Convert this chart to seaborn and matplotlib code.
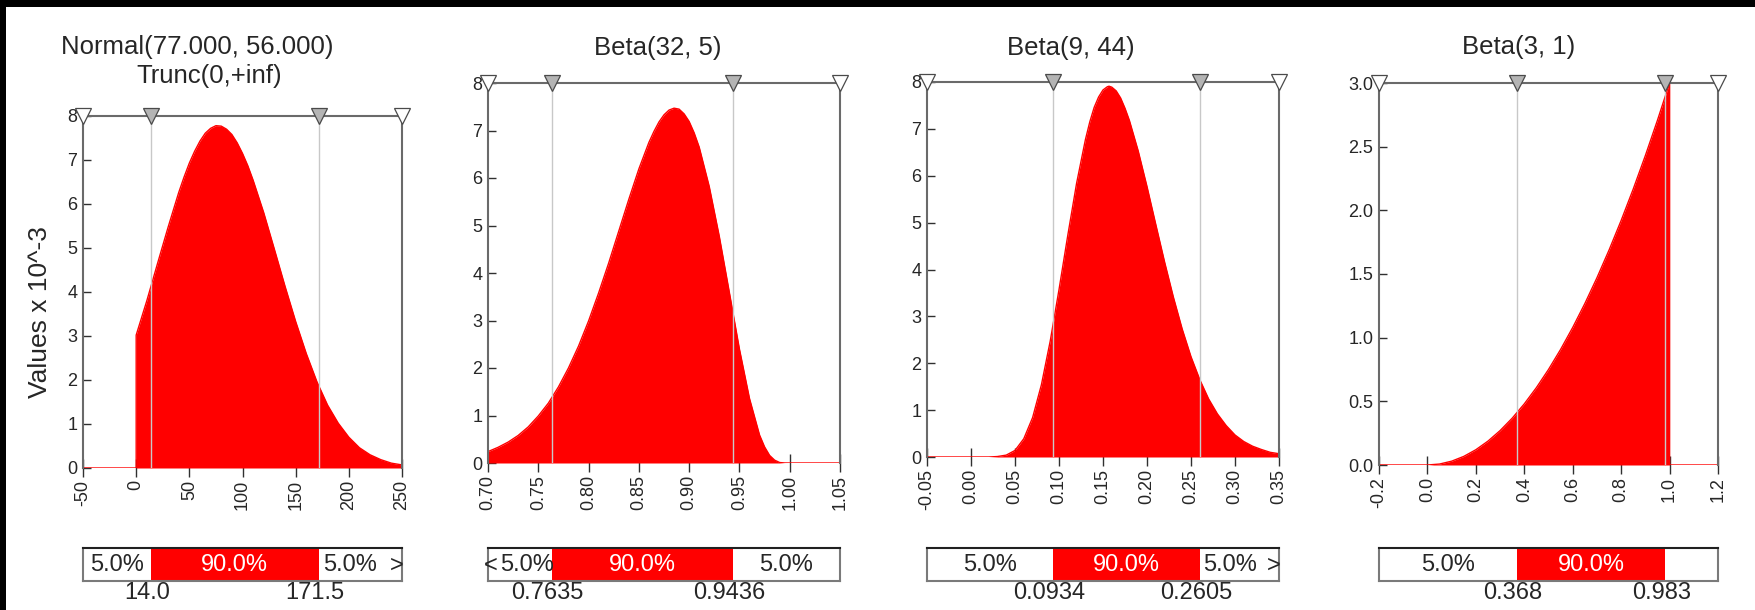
import matplotlib
matplotlib.use("Agg")
import numpy as np
import pandas as pd
import matplotlib.pyplot as plt
from matplotlib.patches import Rectangle
import seaborn as sns

# ---- data ----
titles = [["Normal(77.000, 56.000)", "Trunc(0,+inf)"], ["Beta(32, 5)"], ["Beta(9, 44)"], ["Beta(3, 1)"]]

normal_x = [-50, 0, 0, 10, 20, 30, 40, 45, 50, 55, 60, 65, 70, 75, 80, 85, 90, 95, 100, 105,
            110, 120, 130, 140, 150, 160, 170, 180, 190, 200, 210, 220, 230, 240, 250]
normal_y = [0, 0, 3.02, 3.80, 4.64, 5.47, 6.26, 6.61, 6.93, 7.20, 7.43, 7.61, 7.72, 7.78, 7.77,
            7.70, 7.58, 7.39, 7.15, 6.87, 6.54, 5.80, 4.97, 4.13, 3.33, 2.60, 1.96, 1.43, 1.02,
            0.70, 0.46, 0.30, 0.19, 0.11, 0.07]

beta1_x = [0.70, 0.71, 0.72, 0.73, 0.74, 0.75, 0.76, 0.77, 0.78, 0.79, 0.80, 0.81, 0.82, 0.83,
           0.84, 0.85, 0.86, 0.865, 0.87, 0.875, 0.88, 0.885, 0.89, 0.895, 0.90, 0.905, 0.91,
           0.92, 0.93, 0.94, 0.95, 0.96, 0.97, 0.975, 0.98, 0.985, 0.99, 0.995, 1.00, 1.05]
beta1_y = [0.24, 0.33, 0.44, 0.58, 0.76, 0.99, 1.26, 1.60, 2.00, 2.46, 2.99, 3.58, 4.21, 4.88,
           5.55, 6.19, 6.75, 6.98, 7.18, 7.33, 7.43, 7.47, 7.45, 7.35, 7.19, 6.95, 6.65,
           5.82, 4.77, 3.59, 2.40, 1.36, 0.59, 0.34, 0.16, 0.06, 0.01, 0.001, 0.0, 0.0]

beta2_x = [-0.05, 0.00, 0.01, 0.02, 0.03, 0.04, 0.05, 0.06, 0.07, 0.08, 0.09, 0.10, 0.11, 0.12,
           0.13, 0.135, 0.14, 0.145, 0.15, 0.155, 0.1569, 0.16, 0.165, 0.17, 0.175, 0.18, 0.19,
           0.20, 0.21, 0.22, 0.23, 0.24, 0.25, 0.26, 0.27, 0.28, 0.29, 0.30, 0.31, 0.32, 0.33,
           0.34, 0.35]
beta2_y = [0, 0, 0.0, 0.0, 0.01, 0.04, 0.14, 0.39, 0.84, 1.54, 2.47, 3.57, 4.73, 5.84,
           6.77, 7.15, 7.46, 7.68, 7.83, 7.90, 7.91, 7.89, 7.81, 7.66, 7.44, 7.18, 6.53,
           5.77, 4.96, 4.16, 3.41, 2.73, 2.14, 1.65, 1.24, 0.92, 0.67, 0.47, 0.33, 0.23, 0.16,
           0.10, 0.07]

beta3_x = [-0.2, 0.0, 0.05, 0.10, 0.15, 0.20, 0.25, 0.30, 0.35, 0.40, 0.45, 0.50, 0.55, 0.60,
           0.65, 0.70, 0.75, 0.80, 0.85, 0.90, 0.95, 1.0, 1.0, 1.2]
beta3_y = [0, 0, 0.0075, 0.03, 0.0675, 0.12, 0.1875, 0.27, 0.3675, 0.48, 0.6075, 0.75, 0.9075,
           1.08, 1.2675, 1.47, 1.6875, 1.92, 2.1675, 2.43, 2.7075, 3.0, 0, 0]

curves_x = [normal_x, beta1_x, beta2_x, beta3_x]
curves_y = [normal_y, beta1_y, beta2_y, beta3_y]

x_limits = [(-50, 250), (0.70, 1.05), (-0.05, 0.35), (-0.2, 1.2)]
y_limits = [(0, 8), (0, 8), (0, 8), (0, 3.0)]
x_ticks = [[-50, 0, 50, 100, 150, 200, 250],
           [0.70, 0.75, 0.80, 0.85, 0.90, 0.95, 1.00, 1.05],
           [-0.05, 0.00, 0.05, 0.10, 0.15, 0.20, 0.25, 0.30, 0.35],
           [-0.2, 0.0, 0.2, 0.4, 0.6, 0.8, 1.0, 1.2]]
x_tick_labels = [["-50", "0", "50", "100", "150", "200", "250"],
                 ["0.70", "0.75", "0.80", "0.85", "0.90", "0.95", "1.00", "1.05"],
                 ["-0.05", "0.00", "0.05", "0.10", "0.15", "0.20", "0.25", "0.30", "0.35"],
                 ["-0.2", "0.0", "0.2", "0.4", "0.6", "0.8", "1.0", "1.2"]]
y_ticks = [[0, 1, 2, 3, 4, 5, 6, 7, 8]] * 3 + [[0, 0.5, 1.0, 1.5, 2.0, 2.5, 3.0]]
y_tick_labels = [["0", "1", "2", "3", "4", "5", "6", "7", "8"]] * 3 + \
                [["0.0", "0.5", "1.0", "1.5", "2.0", "2.5", "3.0"]]

q_low = [14.0, 0.7635, 0.0934, 0.368]
q_high = [171.5, 0.9436, 0.2605, 0.983]
q_low_labels = ["14.0", "0.7635", "0.0934", "0.368"]
q_high_labels = ["171.5", "0.9436", "0.2605", "0.983"]
left_pct = ["5.0%", "5.0%", "5.0%", "5.0%"]
mid_pct = ["90.0%", "90.0%", "90.0%", "90.0%"]
right_pct = ["5.0%", "5.0%", "5.0%", ""]
left_arrow = ["", "<", "", ""]
right_arrow = [">", "", ">", ""]

# ---- layout (pixels of a 1756x610 canvas) ----
W, H = 1756, 610
panel_px = [(83, 116, 402, 468), (488, 83, 840, 463), (927, 82, 1279, 457), (1379, 83, 1718, 465)]
bar_top, bar_bottom = 548, 581
title_px = [[(197, 47), (209, 76)], [(658, 48)], [(1071, 48)], [(1519, 47)]]

RED = "#ff0000"
EDGE = "#6a6a6a"


def px_rect(l, t, r, b):
    return [l / W, 1 - b / H, (r - l) / W, (b - t) / H]


sns.set_style("ticks")
plt.rcParams['font.family'] = ['Liberation Sans', 'DejaVu Sans']

fig = plt.figure(figsize=(W / 100, H / 100), dpi=100)

for i in range(4):
    l, t, r, b = panel_px[i]
    ax = fig.add_axes(px_rect(l, t, r, b))
    df = pd.DataFrame({"x": curves_x[i], "y": curves_y[i]})
    ax.fill_between(df["x"], 0, df["y"], color=RED, lw=0, zorder=2)
    sns.lineplot(data=df, x="x", y="y", color=RED, lw=1.0, ax=ax, sort=False,
                 estimator=None, zorder=3)
    x0, x1 = x_limits[i]
    y0, y1 = y_limits[i]
    ax.set_xlim(x0, x1)
    ax.set_ylim(y0, y1)
    ax.set_xlabel("")
    ax.set_ylabel("")

    for q in (q_low[i], q_high[i]):
        ax.axvline(q, color="#c8c8c8", lw=1, zorder=4)

    for side in ("top", "left", "right"):
        ax.spines[side].set_color(EDGE)
        ax.spines[side].set_linewidth(1.5)
        ax.spines[side].set_zorder(5)
    ax.spines["bottom"].set_visible(False)

    ax.plot([x0, x1], [y1, y1], "v", ms=11, mfc="white", mec="#4a4a4a", mew=0.9,
            clip_on=False, zorder=8)
    ax.plot([q_low[i], q_high[i]], [y1, y1], "v", ms=11, mfc="#b4b4b4", mec="#4a4a4a",
            mew=0.9, clip_on=False, zorder=8)

    ax.set_xticks(x_ticks[i])
    ax.set_xticklabels(x_tick_labels[i], rotation=90)
    ax.set_yticks(y_ticks[i])
    ax.set_yticklabels(y_tick_labels[i])
    ax.tick_params(axis="x", direction="inout", length=13, width=1, color="#303030",
                   labelsize=13, pad=2)
    ax.tick_params(axis="y", direction="in", length=6, width=1, color="#303030",
                   labelsize=13, pad=4)

    for line, (tx, ty) in zip(titles[i], title_px[i]):
        fig.text(tx / W, 1 - ty / H, line, ha="center", va="center", fontsize=18.5)

    # percentile bar under each panel
    bax = fig.add_axes(px_rect(l, bar_top, r, bar_bottom))
    bax.set_xlim(x0, x1)
    bax.set_ylim(0, 1)
    bax.axvspan(q_low[i], q_high[i], color=RED, lw=0)
    bax.set_xticks([])
    bax.set_yticks([])
    for side in ("left", "right", "bottom"):
        bax.spines[side].set_color("#7a7a7a")
        bax.spines[side].set_linewidth(1.5)
    bax.spines["top"].set_color("#202020")
    bax.spines["top"].set_linewidth(1.5)

    lshift = 5 if left_arrow[i] else 0
    bax.annotate(left_pct[i], xy=((x0 + q_low[i]) / 2, 0.47), xytext=(lshift, 0),
                 textcoords="offset points", ha="center", va="center", fontsize=17)
    bax.text((q_low[i] + q_high[i]) / 2, 0.47, mid_pct[i], ha="center", va="center",
             fontsize=17, color="white")
    rshift = -7 if right_arrow[i] else 0
    bax.annotate(right_pct[i], xy=((q_high[i] + x1) / 2, 0.47), xytext=(rshift, 0),
                 textcoords="offset points", ha="center", va="center", fontsize=17)
    if right_arrow[i]:
        bax.annotate(right_arrow[i], xy=(x1, 0.47), xytext=(1, 0), textcoords="offset points",
                     ha="right", va="center", fontsize=17)
    if left_arrow[i]:
        bax.annotate(left_arrow[i], xy=(x0, 0.47), xytext=(-3, 0), textcoords="offset points",
                     ha="left", va="center", fontsize=17)
    for q, lab in ((q_low[i], q_low_labels[i]), (q_high[i], q_high_labels[i])):
        bax.annotate(lab, xy=(q, 0), xycoords=("data", "axes fraction"), xytext=(-3, -1),
                     textcoords="offset points", ha="center", va="top", fontsize=17,
                     annotation_clip=False)

fig.text(40 / W, 1 - 312 / H, "Values x 10^-3", rotation=90, ha="center", va="center",
         fontsize=19)

# black frame strips at the top and left edge
fig.add_artist(Rectangle((0, 1 - 7 / H), 1, 7 / H, transform=fig.transFigure,
                         color="black", lw=0))
fig.add_artist(Rectangle((0, 0), 6 / W, 1, transform=fig.transFigure, color="black", lw=0))

fig.savefig("out.png", dpi=100)
